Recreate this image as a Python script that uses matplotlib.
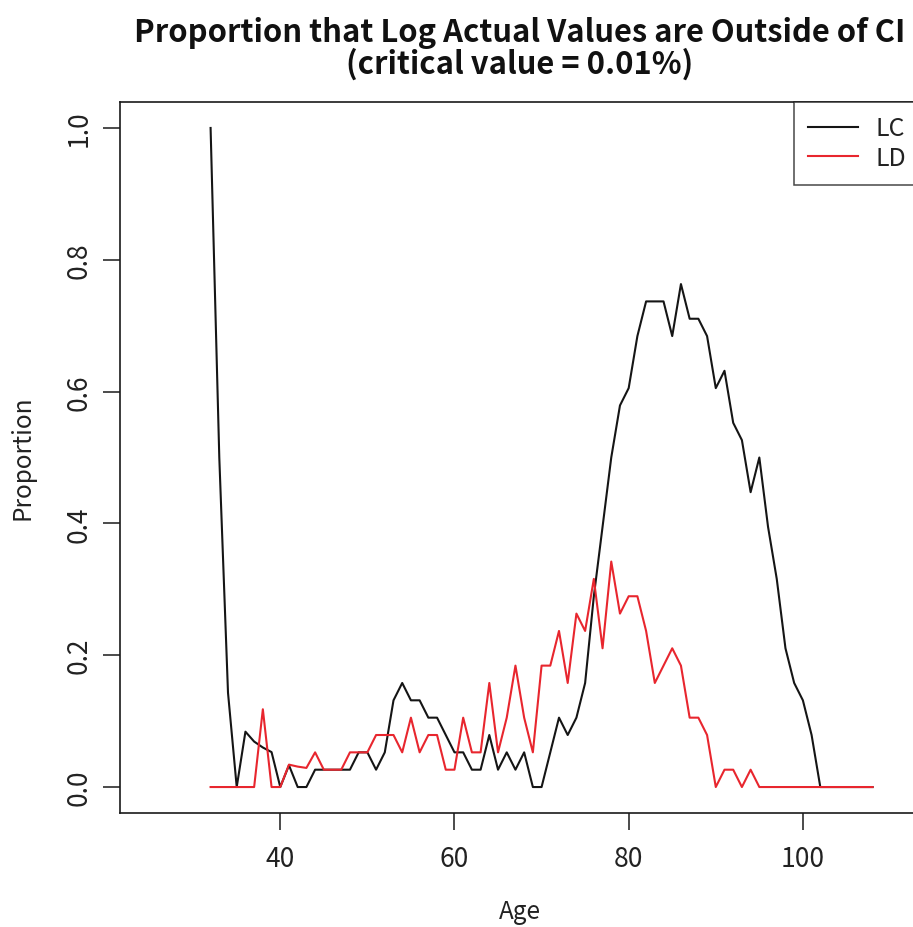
import matplotlib
matplotlib.use("Agg")
import matplotlib.pyplot as plt
import numpy as np

plt.rcParams['font.family'] = ['Noto Sans CJK JP', 'DejaVu Sans']

# ---- data ----
ages = list(range(32, 109))
n = 38.0
lc_early = [1.0, 0.5, 0.143, 0.0, 0.084, 0.069, 0.060, 0.053, 0.0, 0.033, 0.0, 0.0]   # ages 32-43
lc_counts = [1, 1, 1, 1, 1, 2, 2, 1, 2, 5, 6, 5, 5, 4, 4, 3,     # ages 44-59
             2, 2, 1, 1, 3, 1, 2, 1, 2, 0, 0, 2, 4, 3, 4, 6,      # ages 60-75
             11, 15, 19, 22, 23, 26, 28, 28, 28, 26, 29, 27, 27, 26,  # ages 76-89
             23, 24, 21, 20, 17, 19, 15, 12, 8, 6, 5, 3, 0,       # ages 90-102
             0, 0, 0, 0, 0, 0]                                    # ages 103-108
ld_early = [0.0, 0.0, 0.0, 0.0, 0.0, 0.0, 0.118, 0.0, 0.0, 0.034, 0.031, 0.029]  # ages 32-43
ld_counts = [2, 1, 1, 1, 2, 2, 2, 3, 3, 3, 2, 4, 2, 3, 3, 1,       # ages 44-59
             1, 4, 2, 2, 6, 2, 4, 7, 4, 2, 7, 7, 9, 6, 10, 9,      # ages 60-75
             12, 8, 13, 10, 11, 11, 9, 6, 7, 8, 7, 4, 4, 3,        # ages 76-89
             0, 1, 1, 0, 1, 0, 0, 0, 0, 0, 0, 0, 0,                # ages 90-102
             0, 0, 0, 0, 0, 0]                                     # ages 103-108
lc = lc_early + [c / n for c in lc_counts]
ld = ld_early + [c / n for c in ld_counts]

title1 = "Proportion that Log Actual Values are Outside of CI"
title2 = "(critical value = 0.01%)"
xlabel = "Age"
ylabel = "Proportion"
xticks = [40, 60, 80, 100]
yticks = [0.0, 0.2, 0.4, 0.6, 0.8, 1.0]

# ---- figure ----
W, H = 913, 928
fig = plt.figure(figsize=(W / 100, H / 100), dpi=100)
left_px, right_px = 120, 919.6
top_px, bot_px = 102.6, 814.4
ax = fig.add_axes([left_px / W, 1 - bot_px / H, (right_px - left_px) / W, (bot_px - top_px) / H])

ax.plot(ages, lc, color='#151515', lw=1.5, label='LC')
ax.plot(ages, ld, color='#e8262e', lw=1.5, label='LD')

ax.set_xlim(21.6, 113.4)
ax.set_ylim(-0.04, 1.04)
ax.set_xticks(xticks)
ax.set_xticklabels([str(t) for t in xticks])
ax.set_yticks(yticks)
ax.set_yticklabels([f"{t:.1f}" for t in yticks], rotation=90, va='center')

for s in ax.spines.values():
    s.set_linewidth(1.2)
    s.set_color('#1a1a1a')
ax.tick_params(axis='both', length=12, width=1.1, color='#1a1a1a',
               labelsize=19, labelcolor='#222222')
ax.tick_params(axis='x', pad=11)
ax.tick_params(axis='y', pad=8)

fig.text(520 / W, 1 - 912 / H, xlabel, ha='center', va='center', fontsize=17.5, color='#222222')
fig.text(22 / W, 1 - 458 / H, ylabel, ha='center', va='center', rotation=90, fontsize=17.5, color='#222222')

fig.text(520 / W, 1 - 42 / H, title1, ha='center', va='baseline', fontsize=22.3, fontweight='bold', color='#111111')
fig.text(520 / W, 1 - 74 / H, title2, ha='center', va='baseline', fontsize=22.3, fontweight='bold', color='#111111')

leg = ax.legend(loc='upper right', bbox_to_anchor=(1.0, 1.0), borderaxespad=0,
                fancybox=False, frameon=True, fontsize=18, handlelength=2.0,
                handletextpad=0.68, labelspacing=0.15, borderpad=0.55)
leg.get_frame().set_edgecolor('#1a1a1a')
leg.get_frame().set_linewidth(1.1)
for t in leg.get_texts():
    t.set_color('#222222')

fig.savefig('out.png', dpi=100)
